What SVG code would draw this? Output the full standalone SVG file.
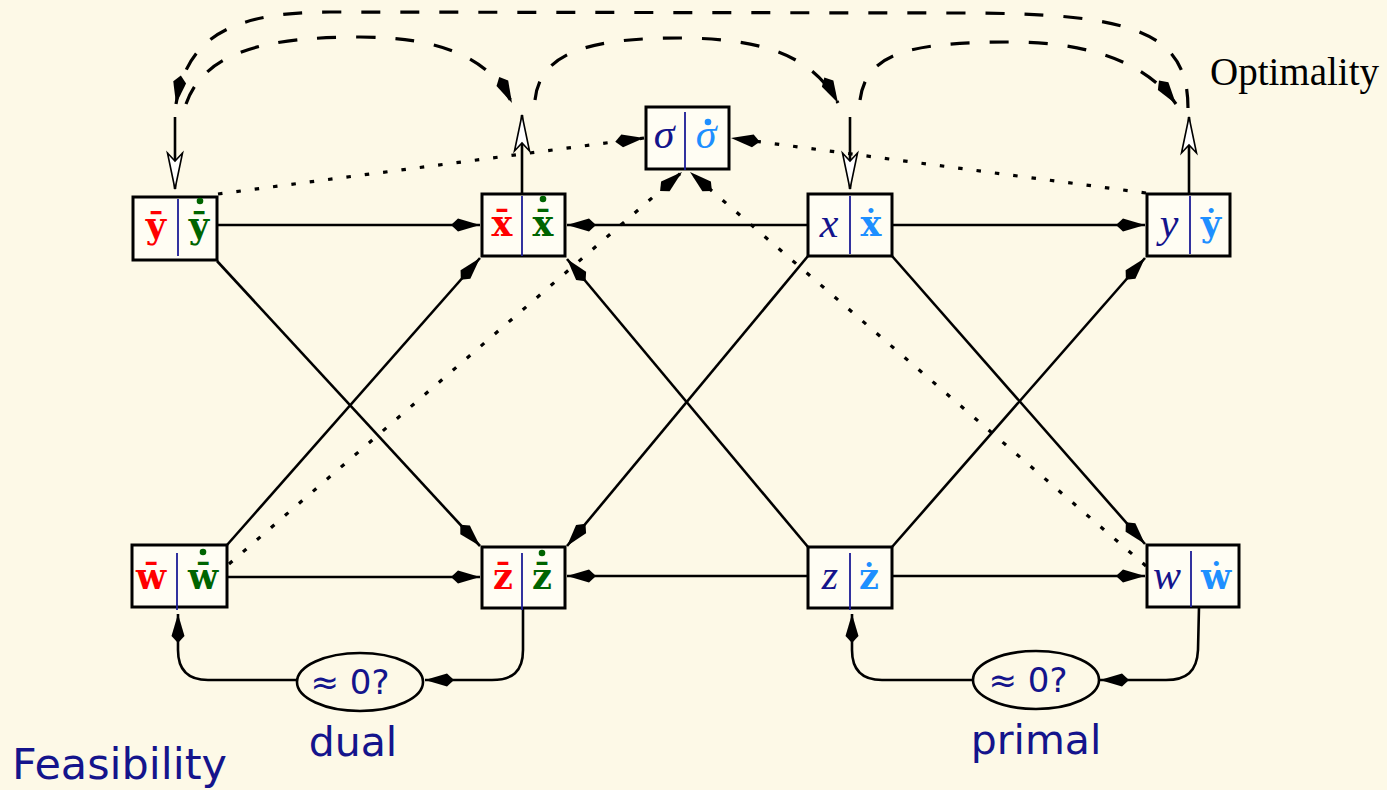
<svg xmlns="http://www.w3.org/2000/svg" width="1387" height="790" viewBox="0 0 1387 790">
<style>
.bg{fill:#fdf9e7}
.box{fill:#fffdf3;stroke:#000;stroke-width:3}
.div{stroke:#1c1c96;stroke-width:1.8}
.bd{font-family:"DejaVu Serif",serif;font-weight:bold;font-size:35px;text-anchor:middle}
.it{font-family:"Liberation Serif",serif;font-style:italic;font-size:42px;text-anchor:middle}
.red{fill:#ff0000}.grn{fill:#006400}.nav{fill:#14148c}.lb{fill:#1e8fff}
.solid{fill:none;stroke:#000;stroke-width:2.6}
.dot{fill:none;stroke:#000;stroke-width:3.2;stroke-dasharray:4.5 14}
.dash{fill:none;stroke:#000;stroke-width:3.2;stroke-dasharray:19 20}
.sans{font-family:"DejaVu Sans",sans-serif;fill:#14148c}
</style>
<defs>
<marker id="k" markerUnits="userSpaceOnUse" viewBox="-31 -8 33 16" refX="0" refY="0" markerWidth="33" markerHeight="16" orient="auto"><path d="M0,0 L-22,-6.5 L-29,0 L-22,6.5 Z" fill="#000"/></marker>
<marker id="o" markerUnits="userSpaceOnUse" viewBox="-40 -10 42 20" refX="0" refY="0" markerWidth="42" markerHeight="20" orient="auto"><path d="M0,0 L-36,-7.5 L-28,0 L-36,7.5 Z" fill="#fff" stroke="#000" stroke-width="1.6" stroke-linejoin="miter"/></marker>
</defs>
<rect class="bg" x="0" y="0" width="1387" height="790"/>

<g id="connectors">
<path class="solid" d="M217,225 L480,225" marker-end="url(#k)"/>
<path class="solid" d="M808,225 L567,225" marker-end="url(#k)"/>
<path class="solid" d="M892,225 L1145,225" marker-end="url(#k)"/>
<path class="solid" d="M227,577 L480,577" marker-end="url(#k)"/>
<path class="solid" d="M808,576 L567,576" marker-end="url(#k)"/>
<path class="solid" d="M892,576 L1145,576" marker-end="url(#k)"/>
<path class="solid" d="M217,261 L480,546" marker-end="url(#k)"/>
<path class="solid" d="M227,545 L480,258" marker-end="url(#k)"/>
<path class="solid" d="M808,256 L567,546" marker-end="url(#k)"/>
<path class="solid" d="M808,547 L567,259" marker-end="url(#k)"/>
<path class="solid" d="M892,256 L1145,544" marker-end="url(#k)"/>
<path class="solid" d="M892,547 L1145,258" marker-end="url(#k)"/>
<path class="dot" d="M218,194 L644,138" marker-end="url(#k)"/>
<path class="dot" d="M1146,193 L731,138" marker-end="url(#k)"/>
<path class="dot" d="M229,564 L682,172" marker-end="url(#k)"/>
<path class="dot" d="M1146,566 L690,172" marker-end="url(#k)"/>
<path class="solid" d="M175,117 L175,189" marker-end="url(#o)"/>
<path class="solid" d="M522,194 L522,115" marker-end="url(#o)"/>
<path class="solid" d="M850,117 L850,189" marker-end="url(#o)"/>
<path class="solid" d="M1189,194 L1189,117" marker-end="url(#o)"/>
<path class="dash" d="M1188,108 C1188,30 1130,13 960,13 L330,12 C220,12 186,45 176,104" marker-end="url(#k)"/>
<path class="dash" d="M186,104 C205,50 270,37 360,37 C440,37 490,58 512,103" marker-end="url(#k)"/>
<path class="dash" d="M535,100 C540,52 590,38 680,38 C770,38 815,60 838,103" marker-end="url(#k)"/>
<path class="dash" d="M860,100 C866,55 905,42 1010,42 C1100,42 1150,68 1176,104" marker-end="url(#k)"/>
<path class="solid" d="M523,608 L523,650 C523,672 512,680 492,680 L425,680" marker-end="url(#k)"/>
<path class="solid" d="M297,680 L208,680 C188,680 178,670 178,650 L178,614" marker-end="url(#k)"/>
<path class="solid" d="M1199,607 L1198,650 C1197,672 1186,680 1166,680 L1100,680" marker-end="url(#k)"/>
<path class="solid" d="M973,680 L882,680 C862,680 852,670 852,650 L852,614" marker-end="url(#k)"/>
</g>

<g id="node-ybar">
<rect class="box" x="133" y="197" width="84" height="63"/>
<line class="div" x1="178" y1="199" x2="178" y2="256"/>
<text class="bd red" x="156" y="238">ȳ</text>
<text class="bd grn" x="199" y="238">ȳ</text>
<circle class="grn" cx="200" cy="201" r="3.3"/>
</g>
<g id="node-xbar">
<rect class="box" x="482" y="194" width="83" height="62"/>
<line class="div" x1="522" y1="196" x2="522" y2="256"/>
<text class="bd red" x="502" y="236">x̄</text>
<text class="bd grn" x="543" y="236">x̄</text>
<circle class="grn" cx="543" cy="199" r="3.3"/>
</g>
<g id="node-sigma">
<rect class="box" x="646" y="107" width="83" height="62"/>
<line class="div" x1="685" y1="112" x2="685" y2="170"/>
<text class="it nav" x="664" y="148">σ</text>
<text class="it lb" x="706" y="148">σ</text>
<circle class="lb" cx="708" cy="122" r="3.3"/>
</g>
<g id="node-x">
<rect class="box" x="808" y="194" width="84" height="62"/>
<line class="div" x1="850" y1="196" x2="850" y2="254"/>
<text class="it nav" x="829" y="237">x</text>
<text class="bd lb" x="871" y="236">ẋ</text>
</g>
<g id="node-y">
<rect class="box" x="1147" y="194" width="83" height="62"/>
<line class="div" x1="1190" y1="196" x2="1190" y2="254"/>
<text class="it nav" x="1169" y="237">y</text>
<text class="bd lb" x="1211" y="236">ẏ</text>
</g>
<g id="node-wbar">
<rect class="box" x="132" y="545" width="95" height="62"/>
<line class="div" x1="177" y1="553" x2="177" y2="610"/>
<text class="bd red" x="151" y="589">w̄</text>
<text class="bd grn" x="203" y="589">w̄</text>
<circle class="grn" cx="203" cy="552" r="3.3"/>
</g>
<g id="node-zbar">
<rect class="box" x="482" y="547" width="83" height="61"/>
<line class="div" x1="522" y1="553" x2="522" y2="610"/>
<text class="bd red" x="503" y="589">z̄</text>
<text class="bd grn" x="542" y="589">z̄</text>
<circle class="grn" cx="542" cy="553" r="3.3"/>
</g>
<g id="node-z">
<rect class="box" x="808" y="547" width="84" height="61"/>
<line class="div" x1="850" y1="553" x2="850" y2="610"/>
<text class="it nav" x="830" y="589">z</text>
<text class="bd lb" x="869" y="589">ż</text>
</g>
<g id="node-w">
<rect class="box" x="1147" y="545" width="92" height="62"/>
<line class="div" x1="1191" y1="551" x2="1191" y2="607"/>
<text class="it nav" x="1167" y="589">w</text>
<text class="bd lb" x="1216" y="589">ẇ</text>
</g>
<g id="node-dual">
<ellipse cx="360" cy="682" rx="63" ry="29" fill="none" stroke="#000" stroke-width="2.6"/>
<text class="sans" x="350" y="694" font-size="34" text-anchor="middle">≈ 0?</text>
<text class="sans" x="353" y="756" font-size="41" text-anchor="middle">dual</text>
</g>
<g id="node-primal">
<ellipse cx="1036" cy="680" rx="63" ry="29" fill="none" stroke="#000" stroke-width="2.6"/>
<text class="sans" x="1028" y="692" font-size="34" text-anchor="middle">≈ 0?</text>
<text class="sans" x="1036" y="754" font-size="41" text-anchor="middle">primal</text>
</g>
<text x="1210" y="85" font-family="Liberation Serif,serif" font-size="39" fill="#000">Optimality</text>
<text class="sans" x="12" y="779" font-size="43">Feasibility</text>
</svg>
